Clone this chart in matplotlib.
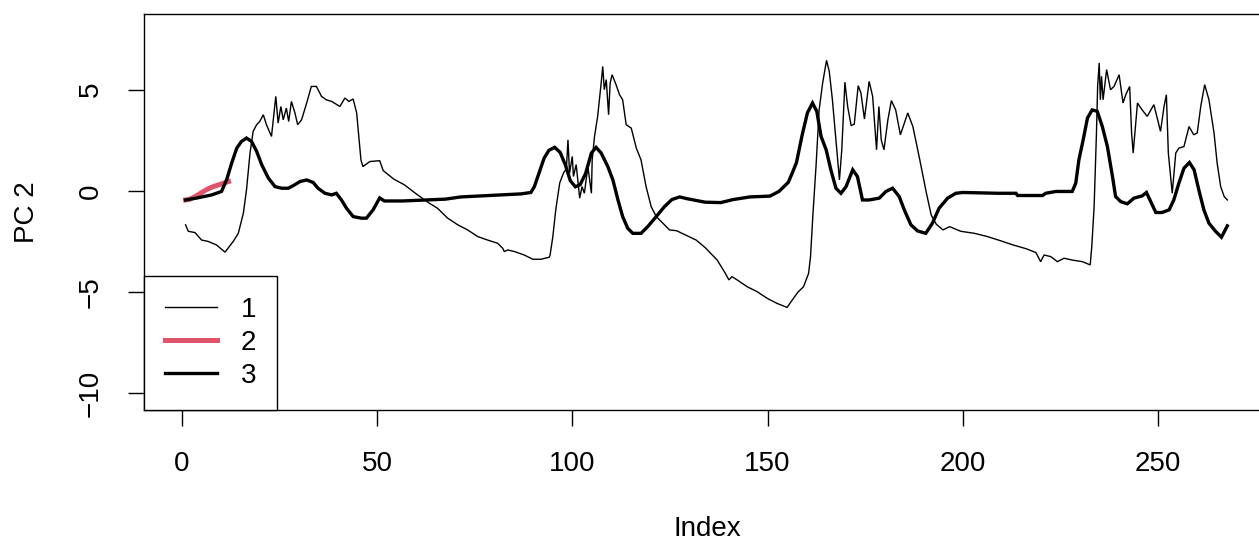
import numpy as np
import matplotlib.pyplot as plt

plt.rcParams['font.family'] = ['Liberation Sans', 'DejaVu Sans']

# PC 2 scores per group, (index, value) vertices
idx1 = [1, 1.7, 3.4, 5.1, 6.8, 8.9, 11.1, 13.2, 14.5, 15.8, 16.6, 17.5, 18.3, 19.2, 20.0,
        20.9, 21.7, 23.0, 24.1, 24.7, 25.4, 26.0, 26.8, 27.4, 28.1, 29.0, 29.7, 30.7, 32.0,
        33.2, 34.5, 35.8, 37.0, 38.4, 40.5, 41.8, 42.8, 43.9, 44.8, 45.9, 46.4, 48.2, 50.7,
        51.6, 54.3, 57.0, 60.4, 63.4, 65.5, 68.1, 70.7, 73.2, 75.8, 78.3, 80.9, 82.2, 82.6,
        83.5, 85.2, 87.7, 89.9, 92.0, 94.1, 94.3, 95.0, 95.8, 96.8, 97.8, 98.5, 98.9, 99.3,
        100.0, 100.3, 101.0, 101.9, 102.5, 103.1, 104.0, 104.6, 104.9, 105.1, 105.7, 106.5,
        107.4, 107.8, 108.2, 108.7, 109.3, 109.7, 110.2, 111.2, 112.1, 112.9, 113.8, 115.1,
        116.4, 117.6, 118.9, 120.2, 121.5, 123.2, 124.9, 126.7, 129.2, 131.7, 134.0, 137.1,
        139.2, 140.1, 140.9, 142.2, 144.8, 147.3, 149.9, 152.4, 155.0, 156.3, 157.8, 159.2,
        160.5, 161.0, 161.6, 162.4, 163.2, 164.1, 165.1, 165.8, 166.6, 167.5, 168.4, 169.0,
        169.8, 170.5, 171.4, 172.2, 173.2, 173.9, 174.8, 176.0, 176.9, 177.9, 178.5, 179.1,
        179.8, 180.8, 181.7, 182.8, 184.0, 185.9, 187.2, 188.9, 190.6, 191.9, 193.2, 194.9,
        196.6, 199.5, 203.0, 206.3, 209.4, 212.8, 216.2, 218.7, 219.9, 220.8, 222.5, 224.2,
        225.9, 228.0, 230.6, 232.6, 233.0, 233.6, 234.2, 234.5, 234.9, 235.2, 235.5, 235.9,
        236.8, 237.8, 238.7, 240.0, 241.0, 241.7, 242.7, 243.2, 243.6, 244.7, 245.9, 247.2,
        248.9, 250.6, 251.5, 252.1, 252.6, 253.6, 254.5, 255.3, 256.6, 257.9, 259.1, 260.0,
        260.9, 261.9, 263.0, 264.3, 265.1, 266.0, 266.9, 267.7]
pc1 = [-1.68, -2.0, -2.06, -2.43, -2.5, -2.67, -3.03, -2.5, -2.1, -1.1, 0.05, 1.87, 2.94, 3.27,
       3.43, 3.76, 3.27, 2.69, 4.67, 3.35, 4.17, 3.51, 4.09, 3.43, 4.42, 3.85, 3.27, 3.51, 4.34,
       5.16, 5.16, 4.67, 4.5, 4.42, 4.17, 4.59, 4.42, 4.54, 3.85, 1.53, 1.2, 1.45, 1.49, 1.0,
       0.58, 0.3, -0.2, -0.61, -0.86, -1.35, -1.68, -1.93, -2.26, -2.43, -2.59, -2.84, -3.0,
       -2.92, -3.0, -3.17, -3.38, -3.38, -3.28, -3.2, -2.3, -0.9, 0.4, 0.9, 1.1, 2.52, 0.87,
       1.7, 0.71, 1.3, -0.36, 0.21, -0.12, 1.2, 0.3, -0.12, 1.53, 2.69, 3.68, 5.33, 6.15, 5.0,
       5.5, 3.76, 5.33, 5.74, 5.25, 4.75, 4.5, 3.27, 3.1, 2.11, 1.53, 0.21, -0.78, -1.27, -1.6,
       -1.93, -1.97, -2.2, -2.43, -2.8, -3.42, -4.08, -4.4, -4.24, -4.4, -4.74, -4.98, -5.31,
       -5.56, -5.76, -5.4, -5.0, -4.74, -4.08, -3.25, -1.2, 1.2, 4.0, 5.33, 6.45, 5.9, 4.5,
       2.52, 0.54, 2.03, 5.37, 4.17, 3.22, 3.3, 5.2, 4.84, 3.55, 5.41, 4.67, 2.03, 4.17, 2.52,
       2.03, 3.51, 4.46, 4.0, 2.77, 3.85, 3.18, 1.6, -0.05, -1.2, -1.65, -1.93, -1.77, -2.0,
       -2.1, -2.26, -2.45, -2.67, -2.86, -3.05, -3.5, -3.17, -3.25, -3.5, -3.33, -3.42, -3.5,
       -3.66, -2.76, -0.78, 2.86, 5.16, 6.32, 4.5, 5.66, 4.5, 5.99, 5.0, 5.16, 5.74, 4.34,
       4.75, 5.16, 2.86, 1.87, 4.34, 4.0, 3.68, 4.26, 2.94, 4.17, 4.75, 1.87, -0.12, 1.87,
       2.11, 2.19, 3.18, 2.77, 2.86, 4.17, 5.25, 4.5, 2.86, 1.37, 0.21, -0.28, -0.45]

idx2 = [1, 2, 3, 4, 5, 6, 7, 8, 9, 10, 11, 12]
pc2 = [-0.45, -0.42, -0.33, -0.22, -0.1, 0.02, 0.12, 0.2, 0.27, 0.33, 0.4, 0.46]

idx3 = [1, 4, 7.7, 10.2, 11.5, 12.8, 14.1, 15.3, 16.6, 17.9, 19.2, 20.5, 22.2, 23.9, 25.6,
        27.3, 28.5, 30.3, 32.0, 33.7, 34.9, 36.7, 38.4, 39.6, 40.9, 42.2, 43.9, 46.0, 47.3,
        49.0, 50.7, 51.9, 56.5, 63.0, 67.5, 71.5, 76.6, 80.0, 86.9, 89.4, 90.3, 91.6, 92.8,
        94.0, 95.5, 96.9, 98.2, 99.5, 100.8, 102.0, 103.4, 104.9, 106.1, 107.4, 109.1, 110.4,
        111.7, 112.9, 114.2, 115.5, 117.6, 119.3, 121.5, 123.6, 125.5, 127.5, 129.2, 131.1,
        134.0, 138.0, 141.2, 145.5, 150.6, 152.9, 155.3, 156.3, 157.4, 158.9, 160.2, 161.5,
        162.6, 163.7, 165.0, 166.2, 167.5, 168.8, 170.1, 171.8, 173.0, 174.3, 176.0, 178.6,
        180.3, 182.0, 183.7, 185.0, 186.7, 188.4, 190.5, 192.2, 193.9, 196.1, 198.2, 200.0,
        209.0, 213.6, 214.0, 220.4, 221.2, 223.8, 228.0, 228.9, 229.7, 230.8, 231.9, 233.1,
        234.4, 235.7, 237.0, 238.3, 239.1, 240.4, 242.1, 243.8, 245.9, 247.0, 248.1, 249.4,
        251.0, 252.8, 254.0, 255.3, 256.6, 258.0, 259.2, 260.4, 261.7, 263.0, 264.7, 266.2,
        267.7]
pc3 = [-0.45, -0.35, -0.2, -0.03, 0.54, 1.37, 2.11, 2.44, 2.61, 2.44, 1.95, 1.29, 0.63, 0.21,
       0.13, 0.13, 0.25, 0.46, 0.54, 0.41, 0.13, -0.12, -0.2, -0.12, -0.45, -0.86, -1.27,
       -1.35, -1.35, -0.94, -0.35, -0.5, -0.5, -0.45, -0.41, -0.3, -0.25, -0.22, -0.15, -0.08,
       0.21, 0.95, 1.62, 2.0, 2.15, 1.9, 1.3, 0.5, 0.2, 0.3, 0.85, 1.87, 2.15, 1.87, 1.2, 0.54,
       -0.45, -1.27, -1.85, -2.1, -2.1, -1.77, -1.27, -0.78, -0.43, -0.3, -0.38, -0.45, -0.56,
       -0.58, -0.43, -0.3, -0.26, -0.03, 0.42, 0.87, 1.4, 2.8, 3.85, 4.34, 3.93, 2.69, 2.03,
       1.04, 0.13, -0.12, 0.21, 1.04, 0.71, -0.45, -0.45, -0.36, -0.03, 0.13, -0.28, -0.94,
       -1.68, -1.98, -2.1, -1.6, -0.86, -0.36, -0.12, -0.08, -0.12, -0.12, -0.23, -0.23,
       -0.12, -0.03, -0.03, 0.38, 1.53, 2.52, 3.6, 4.0, 3.93, 3.18, 2.19, 0.71, -0.28, -0.53,
       -0.64, -0.36, -0.25, -0.08, -0.53, -1.07, -1.07, -0.94, -0.45, 0.38, 1.12, 1.4, 1.04,
       0.05, -0.94, -1.6, -2.0, -2.29, -1.73]

group_labels = ['1', '2', '3']
group_colors = ['black', '#DF536B', 'black']
group_widths = [1.0, 3.6, 2.4]

W, H = 1259, 542
fig = plt.figure(figsize=(W / 100, H / 100), dpi=100)
# plot region in pixels: left 144, right 1270 (runs off the canvas), top 14, bottom 410
ax = fig.add_axes([143.85 / W, 1 - 410 / H, (1270.2 - 143.85) / W, 396 / H])

for xs, ys, lab, col, lw in zip([idx1, idx2, idx3], [pc1, pc2, pc3],
                                group_labels, group_colors, group_widths):
    ax.plot(xs, ys, color=col, lw=lw, label=lab, solid_joinstyle='miter')

ax.set_xlim(-9.68, 278.68)
ax.set_ylim(-10.83, 8.74)
ax.set_xticks([0, 50, 100, 150, 200, 250])
ax.set_yticks([-10, -5, 0, 5])

for s in ax.spines.values():
    s.set_linewidth(1.0)
ax.tick_params(axis='both', direction='out', length=11.5, width=1.0,
               labelsize=20, colors='black')
ax.tick_params(axis='x', pad=18)
ax.tick_params(axis='y', pad=27)
for t in ax.get_yticklabels():
    t.set_rotation(90)
    t.set_va('center')
    t.set_ha('center')

ax.set_xlabel('Index', fontsize=20)
ax.set_ylabel('PC 2', fontsize=20)
ax.xaxis.set_label_coords(0.5, -(516 - 410) / 396)
ax.yaxis.set_label_coords((40 - 144) / 1126.35, 0.5)

leg = ax.legend(loc='lower left', bbox_to_anchor=(0, 0), borderaxespad=0,
                fontsize=20, fancybox=False, framealpha=1, edgecolor='black',
                handlelength=1.9, handletextpad=0.85, labelspacing=0.26,
                borderpad=0.75)
leg.get_frame().set_linewidth(1.0)

fig.savefig('out.png', dpi=100)
